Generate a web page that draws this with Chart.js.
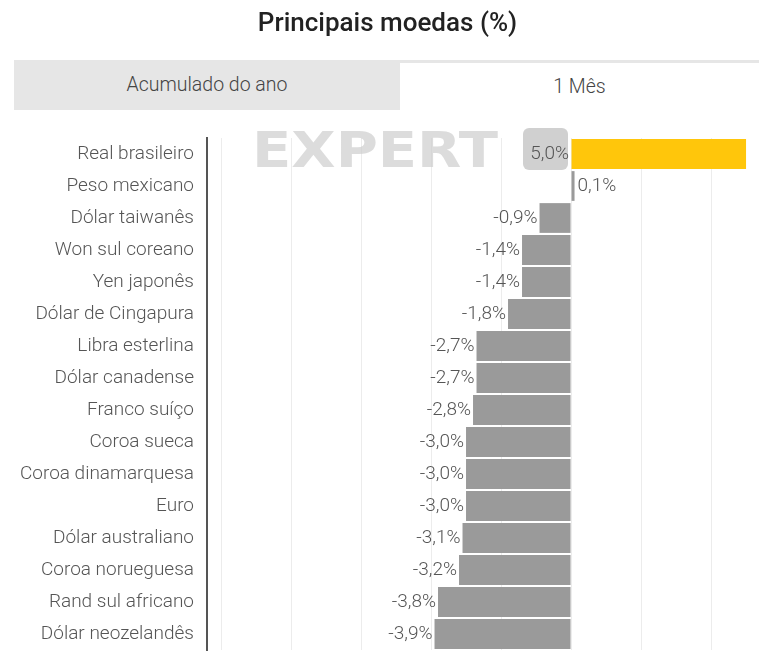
<!DOCTYPE html>
<html>
<head>
<meta charset="utf-8">
<script src="https://cdn.jsdelivr.net/npm/chart.js@4"></script>
<style>
  body { margin: 0; background: #fff; font-family: Roboto, sans-serif; }
  #wrap { position: relative; width: 759px; height: 652px; overflow: hidden; }
  #title { position: absolute; top: 7px; left: 0; width: 775px; text-align: center; font-size: 26px; font-weight: 500; color: #222; }
  #tabs { position: absolute; top: 60px; left: 14px; width: 745px; height: 50px; background: #e6e6e6; }
  .tab { position: absolute; top: 0; height: 50px; line-height: 50px; text-align: center; font-size: 19.5px; color: #444; font-weight: 300; }
  #tabA { left: 0; width: 386px; }
  #tabB { left: 386px; top: 3px; height: 47px; line-height: 47px; width: 359px; background: #fff; }
  #box { position: absolute; top: 0; left: 0; width: 759px; height: 652px; }
</style>
</head>
<body>
<div id="wrap">
  <div id="box"><canvas id="chart"></canvas></div>
  <div id="title">Principais moedas (%)</div>
  <div id="tabs">
    <div class="tab" id="tabA">Acumulado do ano</div>
    <div class="tab" id="tabB">1 Mês</div>
  </div>
</div>
<script>
// moedas, variação em 1 mês (%)
const moedas = [
  'Real brasileiro', 'Peso mexicano', 'Dólar taiwanês', 'Won sul coreano',
  'Yen japonês', 'Dólar de Cingapura', 'Libra esterlina', 'Dólar canadense',
  'Franco suíço', 'Coroa sueca', 'Coroa dinamarquesa', 'Euro',
  'Dólar australiano', 'Coroa norueguesa', 'Rand sul africano', 'Dólar neozelandês'
];
const variacao = [5.0, 0.1, -0.9, -1.4, -1.4, -1.8, -2.7, -2.7, -2.8, -3.0, -3.0, -3.0, -3.1, -3.2, -3.8, -3.9];
const gridTicks = [-10, -8, -6, -4, -2, 0, 2, 4];

const amarelo = '#ffc60b';
const cinza = '#9a9a9a';

const fmt = v => v.toFixed(1).replace('.', ',') + '%';

// marca d'agua "EXPERT"
const watermark = {
  id: 'watermark',
  beforeDatasetsDraw(chart) {
    const ctx = chart.ctx;
    ctx.save();
    ctx.font = 'bold 50px "DejaVu Sans"';
    const w = ctx.measureText('EXPERT').width;
    ctx.translate(252, 167);
    ctx.scale(246 / w, 1);
    ctx.fillStyle = 'rgba(205,205,205,0.7)';
    ctx.fillText('EXPERT', 0, 0);
    ctx.restore();
    ctx.save();
    ctx.fillStyle = 'rgba(200,200,200,0.85)';
    ctx.beginPath();
    ctx.roundRect(523, 128, 45, 42, 6);
    ctx.fill();
    ctx.restore();
  }
};

// rotulos dos valores
const valueLabels = {
  id: 'valueLabels',
  afterDatasetsDraw(chart) {
    const ctx = chart.ctx;
    const meta = chart.getDatasetMeta(0);
    const x0 = chart.scales.x.getPixelForValue(0);
    ctx.save();
    ctx.font = '300 19px Roboto';
    ctx.fillStyle = '#555';
    ctx.textBaseline = 'middle';
    meta.data.forEach((bar, i) => {
      const v = variacao[i];
      if (v < 0) {
        ctx.textAlign = 'right';
        ctx.fillText(fmt(v), bar.x - 2, bar.y);
      } else if (v > 1) {
        ctx.textAlign = 'right';
        ctx.fillText(fmt(v), x0 - 2, bar.y);
      } else {
        ctx.textAlign = 'left';
        ctx.fillText(fmt(v), bar.x + 3, bar.y);
      }
    });
    ctx.restore();
  }
};

new Chart(document.getElementById('chart'), {
  type: 'bar',
  data: {
    labels: moedas,
    datasets: [{
      data: variacao,
      backgroundColor: variacao.map((v, i) => i === 0 ? amarelo : cinza),
      borderWidth: 0,
      categoryPercentage: 1,
      barPercentage: 0.93
    }]
  },
  options: {
    indexAxis: 'y',
    responsive: true,
    maintainAspectRatio: false,
    animation: false,
    layout: { padding: { top: 138, bottom: 2, left: 0, right: 0 } },
    plugins: {
      legend: { display: false },
      tooltip: { enabled: false }
    },
    scales: {
      x: {
        min: -10.4,
        max: 5.37,
        afterBuildTicks: s => { s.ticks = gridTicks.map(v => ({ value: v })); },
        afterFit: s => { s.height = 0; s.paddingLeft = 0; s.paddingRight = 0; },
        ticks: { display: false },
        border: { display: false },
        grid: { color: '#ececec', drawTicks: false }
      },
      y: {
        afterFit: s => { s.width = 207; s.paddingTop = 0; s.paddingBottom = 0; },
        grid: { display: false },
        border: { display: true, color: '#555', width: 2 },
        ticks: {
          color: '#555',
          padding: 5,
          font: { family: 'Roboto', size: 19, weight: 300 }
        }
      }
    }
  },
  plugins: [watermark, valueLabels]
});
</script>
</body>
</html>
